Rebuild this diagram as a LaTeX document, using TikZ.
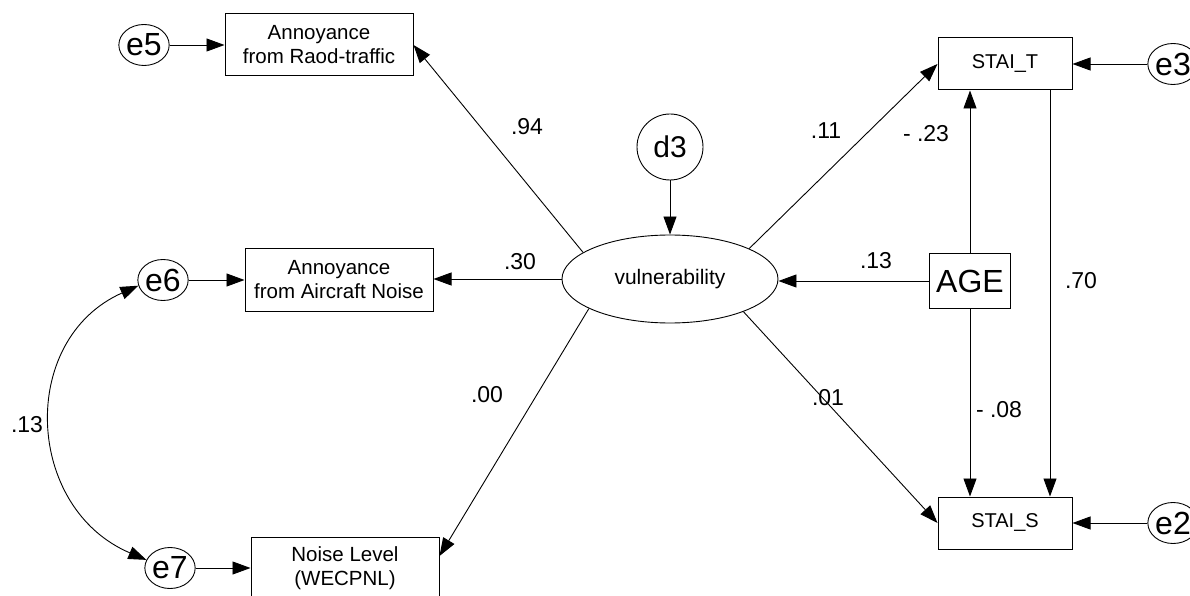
\documentclass[tikz,border=0pt]{standalone}
\usepackage{fontspec}
\setmainfont{Liberation Sans}
\usetikzlibrary{shapes.geometric,arrows.meta}

\begin{document}
\begin{tikzpicture}[x=1pt,y=1pt,
  every node/.style={inner sep=0pt},
  obs/.style={draw,rectangle,line width=1pt,align=center,
    minimum width=188pt,minimum height=62pt,
    font=\fontsize{20.5}{24}\selectfont},
  stai/.style={obs,minimum width=134pt,minimum height=52pt,
    font=\fontsize{20}{24}\selectfont},
  err/.style={draw,ellipse,line width=0.9pt,minimum width=46pt,
    minimum height=41pt,font=\fontsize{32}{32}\selectfont},
  coef/.style={font=\fontsize{23}{23}\selectfont},
  link/.style={-{Triangle[length=18pt,width=13pt]},line width=0.9pt}]
  \useasboundingbox (0,0) rectangle (1190,595);
  \clip (0,0) rectangle (1190,595);

  % observed variables
  \node[obs] (road) at (319,550) {Annoyance\\from Raod-traffic};
  \node[obs] (air) at (339,315) {Annoyance\\from Aircraft Noise};
  \node[obs] (noise) at (345,27) {Noise Level\\(WECPNL)};
  \node[stai] (stait) at (1005,531) {STAI\_T};
  \node[stai] (stais) at (1005,72) {STAI\_S};
  \node[obs,minimum width=81pt,minimum height=55pt,
    font=\fontsize{32}{32}\selectfont] (age) at (970,314) {AGE};

  % latent and error terms
  \node[draw,ellipse,line width=0.9pt,minimum width=216pt,minimum height=88pt,
    font=\fontsize{21}{21}\selectfont] (vul) at (670,316) {vulnerability};
  \node[draw,circle,line width=0.9pt,minimum size=66pt,
    font=\fontsize{30}{30}\selectfont] (d3) at (670,448) {d3};
  \node[err] (e5) at (144,550) {e5};
  \node[err] (e6) at (163,315) {e6};
  \node[err] (e7) at (170,27) {e7};
  \node[err] (e3) at (1173,531) {e3};
  \node[err] (e2) at (1173,72) {e2};

  % paths
  \draw[link] (e5) -- (road);
  \draw[link] (e6) -- (air);
  \draw[link] (e7) -- (noise);
  \draw[link] (e3) -- (stait);
  \draw[link] (e2) -- (stais);
  \draw[link] (d3) -- (vul);
  \draw[link] (vul.163) -- (road.east);
  \draw[link] (vul.west) -- (vul.west -| air.east);
  \draw[link] (vul.200) -- ([yshift=12pt]noise.east);
  \draw[link] (vul.21) -- (stait.west);
  \draw[link] (vul.-24) -- (stais.west);
  \draw[link] (age.west) -- (age.west -| vul.east);
  \draw[link] (age.north) -- (age.north |- stait.south);
  \draw[link] (age.south) -- (age.south |- stais.north);
  \draw[link] ([xshift=45pt]stait.south) -- ([xshift=45pt]stais.north);
  \draw[link,{Triangle[length=18pt,width=13pt]}-{Triangle[length=18pt,width=13pt]}]
    (e6.193) to[out=204,in=157,looseness=1.23] (e7.161);

  % coefficients
  \node[coef] (c94) at (527,468) {.94};
  \node[coef] (c30) at (520,333) {.30};
  \node[coef] (c00) at (487,200) {.00};
  \node[coef] (c11) at (826,464) {.11};
  \node[coef] (c23) at (926,461) {- .23};
  \node[coef] (c13) at (876,334) {.13};
  \node[coef] (c70) at (1081,314) {.70};
  \node[coef] (c08) at (999,185) {- .08};
  \node[coef] (c01) at (828,197) {.01};
  \node[coef] (r13) at (27,170) {.13};
\end{tikzpicture}
\end{document}
